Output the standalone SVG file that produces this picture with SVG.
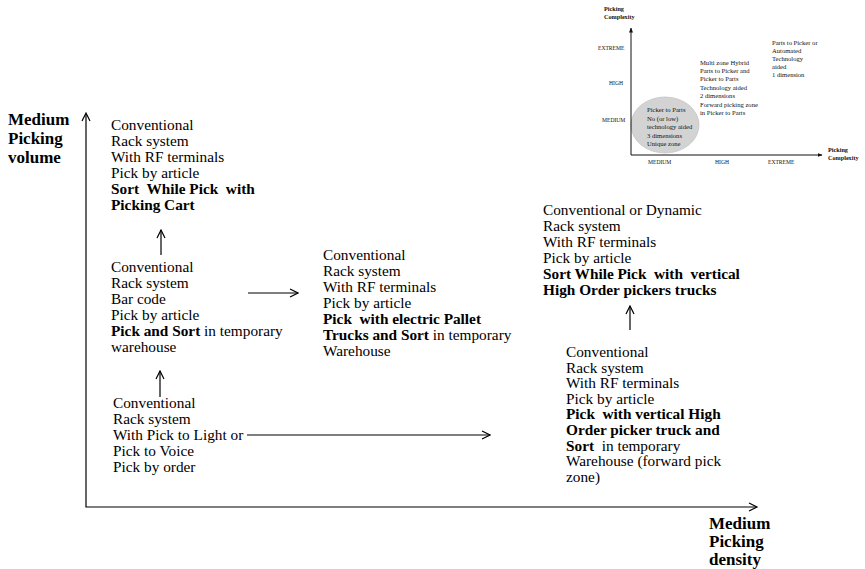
<svg xmlns="http://www.w3.org/2000/svg" width="865" height="569" viewBox="0 0 865 569">
<style>
.t{font-family:"Liberation Serif","Times New Roman",serif;font-size:15.3px;fill:#000}
.b{font-weight:bold}
.ax{font-family:"Liberation Serif","Times New Roman",serif;font-size:17px;font-weight:bold;fill:#000}
.s{font-family:"Liberation Serif","Times New Roman",serif;font-size:6.6px;fill:#111}
.sl{font-family:"Liberation Serif","Times New Roman",serif;font-size:5.6px;fill:#111}
.sb{font-family:"Liberation Serif","Times New Roman",serif;font-size:6.2px;font-weight:bold;fill:#111}
.ln{stroke:#000;stroke-width:1.2;fill:none}
.il{stroke:#111;stroke-width:1;fill:none}
</style>
<defs>
<marker id="open" viewBox="0 0 10 10" refX="9" refY="5" markerWidth="10" markerHeight="10" markerUnits="userSpaceOnUse" orient="auto">
<polyline points="1,1 9,5 1,9" fill="none" stroke="#000" stroke-width="1.2"/>
</marker>
<marker id="solid" viewBox="0 0 10 10" refX="9" refY="5" markerWidth="5" markerHeight="5" markerUnits="userSpaceOnUse" orient="auto">
<polygon points="0,1 10,5 0,9" fill="#111"/>
</marker>
</defs>
<rect width="865" height="569" fill="#fff"/>

<g id="inset">
<ellipse cx="665" cy="125" rx="34" ry="28" fill="#d3d3d3" stroke="#c4c4c4" stroke-width="0.8"/>
<line class="il" x1="631" y1="155" x2="631" y2="28" marker-end="url(#solid)"/>
<line class="il" x1="631" y1="155" x2="822" y2="155" marker-end="url(#solid)"/>
<text class="sb" x="604" y="11">Picking</text>
<text class="sb" x="604" y="19">Complexity</text>
<text class="sb" x="828" y="152">Picking</text>
<text class="sb" x="828" y="160">Complexity</text>
<text class="sl" x="598" y="50">EXTREME</text>
<text class="sl" x="609" y="85">HIGH</text>
<text class="sl" x="602" y="122">MEDIUM</text>
<text class="sl" x="648" y="164">MEDIUM</text>
<text class="sl" x="715" y="164">HIGH</text>
<text class="sl" x="768" y="164">EXTREME</text>
<text class="s" x="647" y="112">Picker to Parts</text>
<text class="s" x="647" y="121">No (or low)</text>
<text class="s" x="647" y="129">technology aided</text>
<text class="s" x="647" y="138">3 dimensions</text>
<text class="s" x="647" y="146">Unique zone</text>
<text class="s" x="700" y="65">Multi zone Hybrid</text>
<text class="s" x="700" y="73">Parts to Picker and</text>
<text class="s" x="700" y="81">Picker to Parts</text>
<text class="s" x="700" y="90">Technology aided</text>
<text class="s" x="700" y="98">2 dimensions</text>
<text class="s" x="700" y="107">Forward picking zone</text>
<text class="s" x="700" y="115">in Picker to Parts</text>
<text class="s" x="772" y="45">Parts to Picker or</text>
<text class="s" x="772" y="53">Automated</text>
<text class="s" x="772" y="61">Technology</text>
<text class="s" x="772" y="69">aided</text>
<text class="s" x="772" y="77">1 dimension</text>
</g>

<g id="axes">
<polyline class="ln" points="86,114 86,507 756,507" stroke="#333"/>
<polyline points="82,121 86,113 90,121" fill="none" stroke="#000" stroke-width="1.2"/>
<polyline points="749,503 757,507 749,511" fill="none" stroke="#000" stroke-width="1.2"/>
<text class="ax" x="8" y="125">Medium</text>
<text class="ax" x="8" y="144">Picking</text>
<text class="ax" x="8" y="163">volume</text>
<text class="ax" x="709" y="529">Medium</text>
<text class="ax" x="709" y="547">Picking</text>
<text class="ax" x="709" y="565">density</text>
</g>

<g id="n1">
<text class="t" x="111" y="130">Conventional</text>
<text class="t" x="111" y="146">Rack system</text>
<text class="t" x="111" y="162">With RF terminals</text>
<text class="t" x="111" y="178">Pick by article</text>
<text class="t b" x="111" y="194" xml:space="preserve">Sort  While Pick  with</text>
<text class="t b" x="111" y="210">Picking Cart</text>
</g>

<g id="n2">
<text class="t" x="111" y="272">Conventional</text>
<text class="t" x="111" y="288">Rack system</text>
<text class="t" x="111" y="304">Bar code</text>
<text class="t" x="111" y="320">Pick by article</text>
<text class="t" x="111" y="336"><tspan class="b">Pick and Sort</tspan> in temporary</text>
<text class="t" x="111" y="352">warehouse</text>
</g>

<g id="n3">
<text class="t" x="113" y="408">Conventional</text>
<text class="t" x="113" y="424">Rack system</text>
<text class="t" x="113" y="440">With Pick to Light or</text>
<text class="t" x="113" y="456">Pick to Voice</text>
<text class="t" x="113" y="472">Pick by order</text>
</g>

<g id="n4">
<text class="t" x="323" y="260">Conventional</text>
<text class="t" x="323" y="276">Rack system</text>
<text class="t" x="323" y="292">With RF terminals</text>
<text class="t" x="323" y="308">Pick by article</text>
<text class="t b" x="323" y="324" xml:space="preserve">Pick  with electric Pallet</text>
<text class="t" x="323" y="340"><tspan class="b">Trucks and Sort</tspan> in temporary</text>
<text class="t" x="323" y="356">Warehouse</text>
</g>

<g id="n5">
<text class="t" x="543" y="215">Conventional or Dynamic</text>
<text class="t" x="543" y="231">Rack system</text>
<text class="t" x="543" y="247">With RF terminals</text>
<text class="t" x="543" y="263">Pick by article</text>
<text class="t b" x="543" y="279" xml:space="preserve">Sort While Pick  with  vertical</text>
<text class="t b" x="543" y="295">High Order pickers trucks</text>
</g>

<g id="n6">
<text class="t" x="566" y="357">Conventional</text>
<text class="t" x="566" y="372.6">Rack system</text>
<text class="t" x="566" y="388.2">With RF terminals</text>
<text class="t" x="566" y="403.8">Pick by article</text>
<text class="t b" x="566" y="419.4" xml:space="preserve">Pick  with vertical High</text>
<text class="t b" x="566" y="435">Order picker truck and</text>
<text class="t" x="566" y="450.6" xml:space="preserve"><tspan class="b">Sort</tspan>  in temporary</text>
<text class="t" x="566" y="466.2">Warehouse (forward pick</text>
<text class="t" x="566" y="481.8">zone)</text>
</g>

<g id="connectors">
<line class="ln" x1="161" y1="255" x2="161" y2="230" marker-end="url(#open)"/>
<line class="ln" x1="160" y1="397" x2="160" y2="371" marker-end="url(#open)"/>
<line class="ln" x1="248" y1="293" x2="298" y2="293" marker-end="url(#open)"/>
<line class="ln" x1="247" y1="435" x2="490" y2="435" marker-end="url(#open)" stroke="#333"/>
<line class="ln" x1="630" y1="330" x2="630" y2="306" marker-end="url(#open)"/>
</g>
</svg>
